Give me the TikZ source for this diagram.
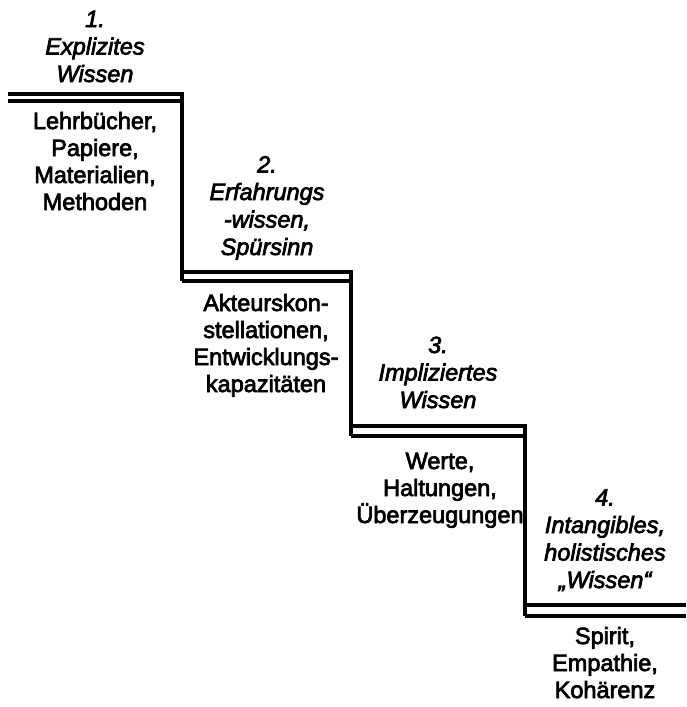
\documentclass[tikz,border=0pt]{standalone}
\usepackage{fontspec}
\newfontfamily\stairfont{Liberation Sans}[RawFeature={embolden=3}]
\begin{document}
\begin{tikzpicture}[x=1pt,y=-1pt,
  stair/.style={line width=4pt,line join=miter,line cap=butt},
  label/.style={anchor=base,align=center,inner sep=0pt,
    font=\stairfont\fontsize{23.5}{27}\selectfont},
  title/.style={label,font=\stairfont\itshape\fontsize{23.5}{27.5}\selectfont}]
\useasboundingbox (0,0) rectangle (686,707);

% corners of the staircase (upper and lower edge of every tread)
\coordinate (s0u) at (8,93.5);    \coordinate (s0l) at (8,100.5);
\coordinate (s1u) at (182,93.5);  \coordinate (s1l) at (182,100.5);
\coordinate (s2u) at (182,272);   \coordinate (s2l) at (182,281);
\coordinate (s3u) at (351,272);   \coordinate (s3l) at (351,281);
\coordinate (s4u) at (351,426);   \coordinate (s4l) at (351,436);
\coordinate (s5u) at (525,426);   \coordinate (s5l) at (525,436);
\coordinate (s6u) at (525,605);   \coordinate (s6l) at (525,615.5);
\coordinate (s7u) at (686,605);   \coordinate (s7l) at (686,615.5);

% upper edge with risers
\draw[stair] (s0u) -- (s1u) -- (s2l);
\draw[stair] (s2u) -- (s3u) -- (s4l);
\draw[stair] (s4u) -- (s5u) -- (s6l);
\draw[stair] (s6u) -- (s7u);
% lower edge of every tread
\draw[stair] (s0l) -- (s1l);
\draw[stair] (s2l) -- (s3l);
\draw[stair] (s4l) -- (s5l);
\draw[stair] (s6l) -- (s7l);

% step titles (anchored at the baseline of their last line)
\node[title] (t1) at (95,82)  {1.\\Explizites\\Wissen};
\node[title] (t2) at (267,255) {2.\\Erfahrungs\\-wissen,\\Spürsinn};
\node[title] (t3) at (438,408) {3.\\Impliziertes\\Wissen};
\node[title] (t4) at (605,588) {4.\\Intangibles,\\holistisches\\„Wissen“};

% step contents
\node[label] (b1) at (95,210)  {Lehrbücher,\\Papiere,\\Materialien,\\Methoden};
\node[label] (b2) at (266,392) {Akteurskon-\\stellationen,\\Entwicklungs-\\kapazitäten};
\node[label] (b3) at (440,523) {Werte,\\Haltungen,\\Überzeugungen};
\node[label] (b4) at (605,698) {Spirit,\\Empathie,\\Kohärenz};
\end{tikzpicture}
\end{document}
